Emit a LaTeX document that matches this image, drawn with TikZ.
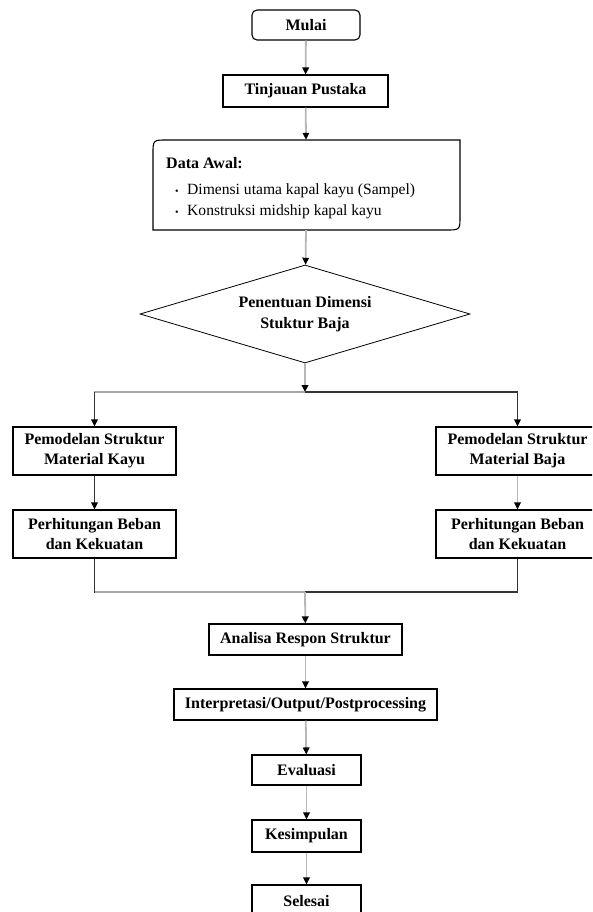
\documentclass[tikz,border=0pt]{standalone}
\usepackage{fontspec}
\setmainfont{Liberation Serif}
\usetikzlibrary{arrows.meta,shapes.geometric,positioning}
\tikzset{
  box/.style={draw=black, line width=1.1pt, fill=white, font=\fontsize{16}{19}\selectfont\bfseries, align=center, inner sep=0pt},
  box2/.style={box, minimum width=163, minimum height=48, font=\fontsize{16}{20}\selectfont\bfseries},
  conn/.style={draw=black!28, line width=1.8pt, -{Triangle[length=7pt,width=6.5pt,color=black]}},
  dconn/.style={draw=black!80, line width=1.1pt, -{Triangle[length=7pt,width=6.5pt,color=black]}},
  plain/.style={draw=black!80, line width=1.1pt},
  gplain/.style={draw=black!35, line width=1.6pt},
  bul/.style={anchor=west, font=\fontsize{15.6}{18}\selectfont, inner sep=0pt},
}
\newcommand{\mybul}{\makebox[12pt][l]{\fontsize{10}{10}\selectfont\textbullet}}
\begin{document}
\begin{tikzpicture}[x=1pt,y=-1pt]
\useasboundingbox (0,0) rectangle (592,912);
\clip (0,0) rectangle (592,912);
\fill[white] (0,0) rectangle (592,912);

% nodes
\node[box, rounded corners=5pt, minimum width=108, minimum height=30] (mulai) at (306,25) {Mulai};
\node[box, minimum width=165, minimum height=32] (tinjau) at (305.5,91) {Tinjauan Pustaka};

\node[minimum width=307, minimum height=90, inner sep=0pt] (data) at (306.5,185) {};
\draw[line width=1.1pt] (153,230) -- (153,154) .. controls (153,140) .. (167,140) -- (460,140) -- (460,216) .. controls (460,230) .. (446,230) -- cycle;
\node[anchor=west, font=\fontsize{16}{19}\selectfont\bfseries, inner sep=0pt] (dtitle) at (166,163) {Data Awal:};
\node[bul] (db1) at (175,191) {\mybul Dimensi utama kapal kayu (Sampel)};
\node[bul] (db2) at (175,212) {\mybul Konstruksi midship kapal kayu};

\node[draw=black, line width=0.8pt, shape=diamond, shape aspect=3.37, minimum width=330, minimum height=98, inner sep=0pt, align=center, font=\fontsize{16}{21}\selectfont\bfseries] (dia) at (305,314) {Penentuan Dimensi\\Stuktur Baja};

\coordinate (split) at (305,392);
\coordinate (merge) at (305,592);

\node[box2] (pk1) at (94.5,451) {Pemodelan Struktur\\Material Kayu};
\node[box2] (hk1) at (94.5,534) {Perhitungan Beban\\dan Kekuatan};
\node[box2] (pb1) at (517.5,451) {Pemodelan Struktur\\Material Baja};
\node[box2] (hb1) at (517.5,534) {Perhitungan Beban\\dan Kekuatan};

\node[box, minimum width=193, minimum height=31] (analisa) at (305.5,639.5) {Analisa Respon Struktur};
\node[box, minimum width=263, minimum height=31] (interp) at (305.5,704.5) {Interpretasi/Output/Postprocessing};
\node[box, minimum width=109, minimum height=30] (eval) at (306.5,770) {Evaluasi};
\node[box, minimum width=109, minimum height=32] (kesim) at (306.5,836) {Kesimpulan};
\node[box, minimum width=109, minimum height=32] (selesai) at (306.5,901) {Selesai};

% connectors
\draw[conn] (mulai) -- (tinjau);
\draw[conn] (tinjau) -- (data);
\draw[conn] (data) -- (dia);
\draw[conn] (dia) -- (split);
\draw[gplain] (split) -| (pk1.north);
\draw[dconn] (pk1.north |- split) -- (pk1);
\draw[plain] (split) -| (pb1.north);
\draw[dconn] (pb1.north |- split) -- (pb1);
\draw[dconn] (pk1) -- (hk1);
\draw[conn] (pb1) -- (hb1);
\draw[plain] (hk1.south) |- (merge);
\draw[gplain] (hk1.south |- merge) -- (merge);
\draw[plain] (hb1.south) |- (merge);
\draw[conn] (merge) -- (analisa);
\draw[conn] (analisa) -- (interp);
\draw[conn] (interp) -- (eval);
\draw[conn] (eval) -- (kesim);
\draw[conn] (kesim) -- (selesai);
\end{tikzpicture}
\end{document}
